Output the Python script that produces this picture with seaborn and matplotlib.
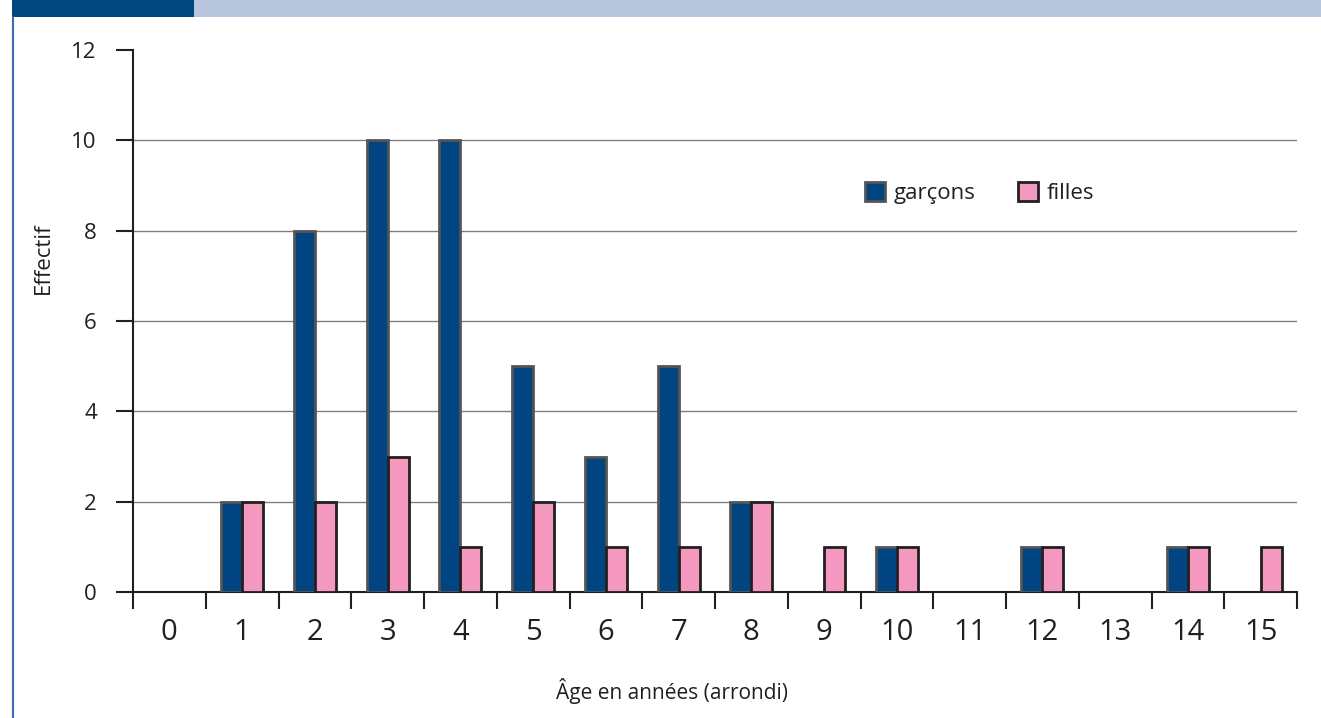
import matplotlib
matplotlib.use("Agg")
import matplotlib.pyplot as plt
from matplotlib.patches import Rectangle, Patch
from matplotlib.lines import Line2D
from matplotlib.ticker import FixedLocator
import seaborn as sns
import pandas as pd
import numpy as np

# Effectifs par âge (arrondi) et par sexe
ages = list(range(16))
garcons = [0, 2, 8, 10, 10, 5, 3, 5, 2, 0, 1, 0, 1, 0, 1, 0]
filles = [0, 2, 2, 3, 1, 2, 1, 1, 2, 1, 1, 0, 1, 0, 1, 1]
series_names = ["garçons", "filles"]

fill_colors = ["#004481", "#F498C0"]
edge_colors = ["#555555", "#231F20"]

sns.set_theme(style="white")
font_list = ["Liberation Sans Narrow", "Open Sans", "DejaVu Sans"]
plt.rcParams["font.family"] = font_list
text_color = "#231F20"

df = pd.DataFrame({
    "age": [str(a) for a in ages] * 2,
    "effectif": garcons + filles,
    "sexe": [series_names[0]] * len(ages) + [series_names[1]] * len(ages),
})

W, H = 1321, 718
fig = plt.figure(figsize=(W / 100, H / 100), dpi=100)
x0, x1, y0, y1 = 133, 1297, 592, 50
ax = fig.add_axes([x0 / W, 1 - y0 / H, (x1 - x0) / W, (y0 - y1) / H])

sns.barplot(data=df, x="age", y="effectif", hue="sexe",
            order=[str(a) for a in ages], hue_order=series_names,
            palette=fill_colors, width=0.58, gap=0, legend=False,
            saturation=1, ax=ax, zorder=3)

for cont, ec in zip(ax.containers, edge_colors):
    for bar in cont:
        bar.set_edgecolor(ec)
        bar.set_linewidth(2.0 if bar.get_height() > 0 else 0)
        bar.set_zorder(3)

ax.set_xlim(-0.5, len(ages) - 0.5)
ax.set_ylim(0, 12)
ax.set_yticks(np.arange(0, 13, 2))
for y in range(2, 12, 2):
    ax.axhline(y, color="#808080", linewidth=1.0, zorder=1)

# category boundaries as tick marks, labels centred between them
ax.xaxis.set_minor_locator(FixedLocator(np.arange(-0.5, len(ages), 1.0)))
ax.tick_params(axis="x", which="major", length=0, pad=19, labelsize=21, labelcolor=text_color)
ax.tick_params(axis="x", which="minor", length=12, width=1.5, color=text_color, direction="out", bottom=True)
ax.tick_params(axis="y", which="major", length=12, width=1.5, color=text_color, direction="out",
               left=True, pad=14, labelsize=16, labelcolor=text_color)

for side in ["top", "right"]:
    ax.spines[side].set_visible(False)
for side in ["left", "bottom"]:
    ax.spines[side].set_color(text_color)
    ax.spines[side].set_linewidth(1.5)

ax.set_xlabel("Âge en années (arrondi)", fontsize=15, color=text_color)
ax.set_ylabel("Effectif", fontsize=16, color=text_color)
ax.xaxis.set_label_coords((672 - x0) / (x1 - x0), -(691 - y0) / (y0 - y1), transform=ax.transAxes)
ax.yaxis.set_label_coords(-(x0 - 43) / (x1 - x0), (y0 - 258) / (y0 - y1), transform=ax.transAxes)
ax.xaxis.label.set_verticalalignment("center")
ax.yaxis.label.set_verticalalignment("center")

handles = [Patch(facecolor=fc, edgecolor=ec, linewidth=2.0, label=n)
           for fc, ec, n in zip(fill_colors, edge_colors, series_names)]
fig.legend(handles=handles, loc="center left", bbox_to_anchor=(845 / W, 1 - 193 / H),
           ncol=2, frameon=False, fontsize=16, handlelength=0.9, handleheight=0.9,
           handletextpad=0.4, columnspacing=1.9, labelcolor=text_color)

# header band and left rule
fig.patches.append(Rectangle((12 / W, 1 - 17 / H), (194 - 12) / W, 17 / H,
                             transform=fig.transFigure, facecolor="#00467F", edgecolor="none"))
fig.patches.append(Rectangle((194 / W, 1 - 17 / H), (W - 194) / W, 17 / H,
                             transform=fig.transFigure, facecolor="#B8C6DD", edgecolor="none"))
fig.lines.append(Line2D([13 / W, 13 / W], [0, 1 - 17 / H], transform=fig.transFigure,
                        color="#3A6EA8", linewidth=1.5))

fig.savefig("out.png", dpi=100)
